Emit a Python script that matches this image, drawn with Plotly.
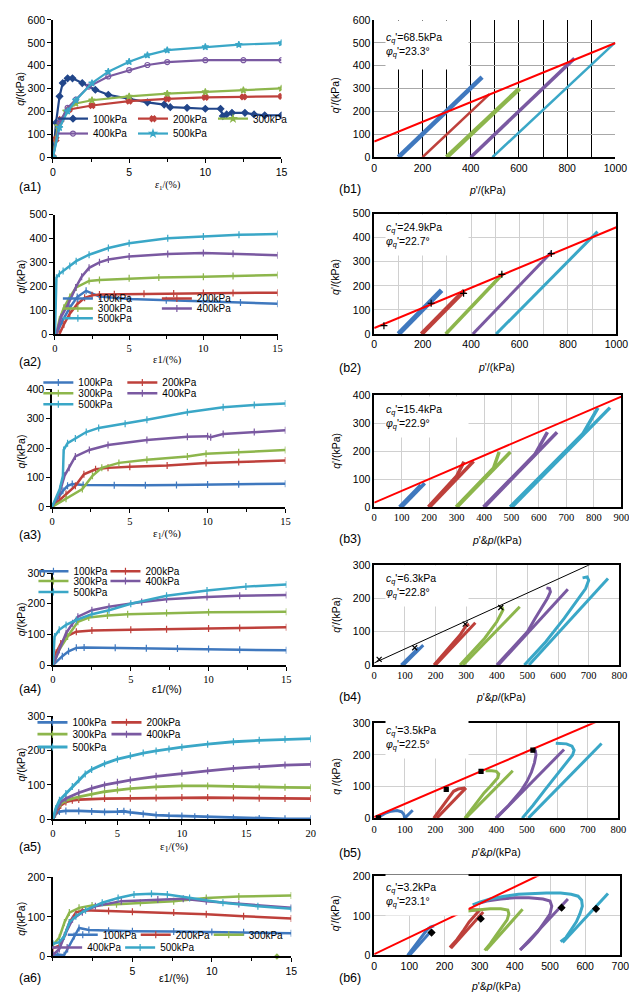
import math
import plotly.graph_objects as go

W, H = 637, 992
SANS = "Liberation Sans, Arial, sans-serif"
SERIF = "Liberation Serif, Times New Roman, serif"
BLUE, RED, GREEN, PURPLE, CYAN, NAVY = "#3F78BE", "#BE403B", "#8DB64C", "#7A59A1", "#3AA7C7", "#22468A"
NAMES = ["100kPa", "200kPa", "300kPa", "400kPa", "500kPa"]

# ---------------- (a1) ----------------
a1_e_100 = [0, 0.2, 0.43, 0.64, 0.96, 1.28, 1.92, 2.78, 3.63, 5, 6.2, 7.3, 7.7, 8.8, 10, 11, 11.15, 11.4, 11.75, 12.6, 13.2, 13.9, 15]
a1_q_100 = [0, 151, 266, 324, 345, 345, 324, 295, 273, 255, 240, 230, 219, 216, 212, 212, 180, 187, 194, 194, 187, 183, 183]
a1_e_200 = [0, 0.2, 0.53, 1.07, 2.56, 5, 7.5, 10, 12.5, 15]
a1_q_200 = [0, 79, 165, 209, 226, 245, 255, 262, 264, 266]
a1_e_300 = [0, 0.32, 0.85, 1.5, 2.56, 5, 7.5, 10, 12.5, 15]
a1_q_300 = [0, 137, 201, 235, 249, 266, 278, 285, 293, 301]
a1_e_400 = [0, 0.43, 0.96, 1.5, 2.35, 3.63, 5, 6.2, 7.5, 10, 12.5, 15]
a1_q_400 = [0, 151, 216, 252, 309, 353, 381, 403, 416, 424, 424, 424]
a1_e_500 = [0, 0.43, 0.96, 1.5, 2.56, 3.63, 5, 6.2, 7.5, 10, 12.2, 15]
a1_q_500 = [0, 129, 201, 249, 324, 374, 417, 446, 468, 482, 492, 499]

# ---------------- (a2) ----------------
a2_e_100 = [0.1, 0.5, 1.0, 1.5, 2.1, 3, 5, 7.5, 10, 12.5, 15]
a2_q_100 = [0, 55, 110, 155, 181, 157, 147, 141, 137, 132, 127]
a2_e_200 = [0.3, 0.6, 1, 1.5, 2, 2.5, 3, 4, 6, 8, 10, 12, 15]
a2_q_200 = [0, 40, 85, 125, 152, 162, 166, 167, 169, 170, 172, 172, 173]
a2_e_300 = [0.1, 0.3, 0.6, 1, 1.43, 2.3, 3, 5, 7, 10, 12, 15]
a2_q_300 = [0, 60, 110, 155, 195, 222, 226, 233, 237, 240, 243, 247]
a2_e_400 = [0.1, 0.4, 0.9, 1.4, 1.8, 2.3, 3, 3.6, 5, 7.6, 10, 12, 15]
a2_q_400 = [0, 70, 126, 195, 240, 277, 300, 312, 325, 335, 339, 336, 330]
a2_e_500 = [0, 0.05, 0.1, 0.3, 0.55, 1, 1.43, 2.3, 3.6, 5, 7.6, 10, 12.4, 15]
a2_q_500 = [0, 120, 236, 252, 264, 285, 305, 332, 360, 380, 401, 408, 415, 419]

# ---------------- (a3) ----------------
a3_e_100 = [0, 0.3, 0.7, 1.0, 1.3, 2, 4, 6, 8, 10, 12, 15]
a3_q_100 = [0, 25, 55, 72, 78, 75, 74, 74, 75, 76, 77, 79]
a3_e_200 = [0, 0.5, 0.9, 1.5, 2.05, 2.8, 3.6, 5, 7.4, 9.9, 12, 15]
a3_q_200 = [0, 25, 44, 72, 111, 128, 133, 137, 141, 150, 153, 158]
a3_e_300 = [0, 0.9, 1.95, 2.6, 3.2, 4.3, 6.1, 8.7, 9.9, 12, 15]
a3_q_300 = [0, 28, 61, 106, 133, 150, 161, 172, 181, 186, 194]
a3_e_400 = [0, 0.5, 0.8, 1.1, 1.5, 2.4, 3.6, 6.1, 8.7, 10, 10.2, 11, 13, 15]
a3_q_400 = [0, 50, 106, 133, 172, 194, 211, 228, 239, 241, 237, 248, 255, 261]
a3_e_500 = [0, 0.5, 0.7, 0.75, 1.0, 1.5, 2.2, 3, 4.7, 6.1, 8.7, 11, 13, 15]
a3_q_500 = [0, 61, 106, 194, 217, 233, 255, 269, 283, 297, 322, 339, 347, 352]

# ---------------- (a4) ----------------
a4_e_100 = [0, 0.6, 1.0, 1.5, 2, 4, 6, 8, 10, 12, 15]
a4_q_100 = [0, 29, 45, 56, 57, 56, 55, 54, 52, 50, 48]
a4_e_200 = [0, 0.2, 0.5, 0.84, 1.5, 2.5, 5, 7.3, 10, 12, 15]
a4_q_200 = [0, 40, 70, 93, 109, 113, 115, 117, 119, 121, 123]
a4_e_300 = [0, 0.4, 0.94, 1.6, 2.3, 3.5, 4.8, 7.3, 10, 15]
a4_q_300 = [0, 50, 93, 141, 155, 162, 166, 170, 172, 174]
a4_e_400 = [0, 0.4, 0.84, 1.26, 1.6, 2.5, 3.6, 5.7, 7.3, 9.9, 12, 15]
a4_q_400 = [0, 50, 104, 136, 158, 179, 190, 206, 215, 222, 226, 229]
a4_e_500 = [0, 0.1, 0.4, 0.84, 1.5, 2.5, 3.6, 5, 7.3, 9.9, 12.4, 15]
a4_q_500 = [0, 93, 115, 131, 147, 166, 179, 200, 226, 243, 256, 263]

# ---------------- (a5) ----------------
a5_e_100 = [0, 0.2, 0.5, 1, 2, 3, 4, 5, 5.5, 6, 7, 8, 9, 10, 11, 12, 14, 16, 18, 20]
a5_q_100 = [0, 15, 22, 24, 24, 22, 21, 22, 23, 20, 15, 12, 10, 9, 7, 5, 3, 2, 1, 1]
a5_e_200 = [0, 0.3, 0.6, 1, 1.5, 2, 4, 6, 8, 10, 12, 14, 16, 18, 20]
a5_q_200 = [0, 25, 40, 50, 55, 57, 60, 61, 62, 63, 63, 62, 61, 60, 60]
a5_e_300 = [0, 0.3, 0.6, 1, 2, 3, 4, 5, 6, 8, 10, 12, 14, 16, 18, 20]
a5_q_300 = [0, 30, 45, 55, 65, 73, 80, 85, 89, 94, 97, 97, 95, 94, 93, 92]
a5_e_400 = [0, 0.3, 0.6, 1, 2, 3, 4, 5, 6, 8, 10, 12, 14, 16, 18, 20]
a5_q_400 = [0, 30, 50, 60, 77, 90, 100, 108, 114, 125, 134, 141, 148, 154, 158, 160]
a5_e_500 = [0, 0.2, 0.5, 1, 1.5, 2, 2.5, 3, 4, 5, 6, 7, 8, 9, 10, 12, 14, 16, 18, 20]
a5_q_500 = [0, 30, 55, 75, 95, 115, 132, 145, 162, 175, 185, 193, 199, 205, 210, 219, 226, 230, 233, 235]

# ---------------- (a6) ----------------
a6_e_100 = [0, 0.3, 0.7, 0.92, 1.33, 1.64, 2.26, 3.5, 5, 7.6, 10, 12, 15]
a6_q_100 = [4, 5, 3, 19, 52, 72, 67, 65, 64, 63, 62, 61, 59]
a6_e_200 = [0, 0.4, 0.72, 1.03, 1.44, 1.85, 3.5, 5, 7.6, 9.65, 12, 15]
a6_q_200 = [21, 27, 52, 86, 111, 117, 115, 113, 111, 107, 102, 96]
a6_e_300 = [0, 0.4, 0.72, 1.03, 1.64, 2.46, 4, 5.5, 7.6, 9.65, 11.7, 15]
a6_q_300 = [29, 48, 86, 111, 123, 129, 132, 136, 140, 148, 152, 154]
a6_e_400 = [0, 0.4, 0.82, 1.23, 1.85, 2.67, 4.3, 6.6, 8.2, 9.65, 11.7, 15]
a6_q_400 = [4, 19, 61, 94, 112, 127, 140, 144, 146, 140, 133, 123]
a6_e_500 = [0, 0.4, 0.72, 1.03, 1.44, 2.05, 3.1, 4.1, 5.1, 6.2, 7.2, 8.6, 10.7, 12.9, 15]
a6_q_500 = [32, 36, 52, 86, 102, 117, 136, 148, 157, 159, 157, 148, 136, 127, 121]
a6_stray_e = [14.1]
a6_stray_q = [0]

# ---------------- (b1) stress paths ----------------
b1_p_100, b1_q_100 = [100, 447], [0, 350]
b1_p_200, b1_q_200 = [200, 478], [0, 276]
b1_p_300, b1_q_300 = [300, 602], [0, 300]
b1_p_400, b1_q_400 = [400, 830], [0, 432]
b1_p_500, b1_q_500 = [490, 997], [0, 500]
b1_c, b1_phi = 68.5, 23.3

# ---------------- (b2) ----------------
b2_p_100, b2_q_100 = [100, 278], [0, 182]
b2_p_200, b2_q_200 = [195, 372], [0, 180]
b2_p_300, b2_q_300 = [295, 532], [0, 251]
b2_p_400, b2_q_400 = [407, 732], [0, 340]
b2_p_500, b2_q_500 = [503, 922], [0, 425]
b2_mk_p, b2_mk_q = [40, 235, 369, 527, 731], [35, 128, 169, 248, 334]
b2_c, b2_phi = 24.9, 22.7

# ---------------- (b3) effective (e) and total (t) paths ----------------
b3_pe_100, b3_qe_100 = [92, 170], [0, 79]
b3_pt_100, b3_qt_100 = [100, 184], [0, 85]
b3_pe_200, b3_qe_200 = [197, 300, 327], [0, 110, 162]
b3_pt_200, b3_qt_200 = [202, 362], [0, 164]
b3_pe_300, b3_qe_300 = [298, 435, 455], [0, 140, 197]
b3_pt_300, b3_qt_300 = [302, 496], [0, 197]
b3_pe_400, b3_qe_400 = [398, 585, 631], [0, 188, 268]
b3_pt_400, b3_qt_400 = [402, 666], [0, 268]
b3_pe_500, b3_qe_500 = [495, 760, 815], [0, 262, 355]
b3_pt_500, b3_qt_500 = [502, 859], [0, 356]
b3_c, b3_phi = 15.4, 22.9

# ---------------- (b4) ----------------
b4_pe_100, b4_qe_100 = [88, 130, 145], [0, 40, 52]
b4_pt_100, b4_qt_100 = [95, 160], [0, 60]
b4_pe_200, b4_qe_200 = [195, 280, 300, 310], [0, 90, 118, 122]
b4_pt_200, b4_qt_200 = [200, 330], [0, 127]
b4_pe_300, b4_qe_300 = [280, 360, 400, 410, 420, 418, 410], [0, 80, 130, 150, 165, 172, 175]
b4_pt_300, b4_qt_300 = [290, 475], [0, 175]
b4_pe_400, b4_qe_400 = [400, 460, 500, 525, 550, 565, 575, 572, 562], [0, 60, 100, 140, 175, 200, 220, 230, 232]
b4_pt_400, b4_qt_400 = [405, 632], [0, 228]
b4_pe_500, b4_qe_500 = [490, 560, 620, 660, 690, 700, 695, 680], [0, 70, 140, 190, 230, 255, 265, 262]
b4_pt_500, b4_qt_500 = [505, 763], [0, 260]
b4_mk_p, b4_mk_q = [16, 132, 297, 413], [17, 52, 123, 173]
b4_c, b4_phi = 6.3, 22.8

# ---------------- (b5) ----------------
b5_pe_100, b5_qe_100 = [100, 97, 90, 75, 55, 35, 15], [0, 12, 20, 24, 22, 15, 4]
b5_pt_100, b5_qt_100 = [100, 126], [0, 25]
b5_pe_200, b5_qe_200 = [195, 215, 235, 250, 260, 275, 295, 300], [0, 25, 50, 70, 85, 92, 95, 90]
b5_pt_200, b5_qt_200 = [205, 300], [0, 95]
b5_pe_300, b5_qe_300 = [297, 320, 340, 360, 380, 395, 405, 408, 400, 385, 365], [0, 30, 55, 80, 100, 115, 128, 140, 148, 150, 150]
b5_pt_300, b5_qt_300 = [300, 454], [0, 150]
b5_pe_400, b5_qe_400 = [398, 440, 480, 500, 515, 525, 530, 528, 520], [0, 40, 85, 115, 145, 175, 200, 213, 217]
b5_pt_400, b5_qt_400 = [400, 622], [0, 217]
b5_pe_500, b5_qe_500 = [485, 520, 560, 600, 630, 650, 655, 648, 630, 595], [0, 40, 90, 140, 175, 200, 215, 228, 235, 237]
b5_pt_500, b5_qt_500 = [505, 745], [0, 236]
b5_mk_p, b5_mk_q = [14, 236, 350, 520], [1, 91, 148, 215]
b5_c, b5_phi = 3.5, 22.5

# ---------------- (b6) ----------------
b6_pe_100, b6_qe_100 = [95, 120, 140, 150, 160, 170], [0, 30, 55, 65, 72, 75]
b6_pt_100, b6_qt_100 = [100, 165], [0, 65]
b6_pe_200, b6_qe_200 = [215, 235, 255, 270, 285, 295, 300, 280, 250, 225, 215], [20, 40, 65, 85, 100, 110, 115, 116, 115, 113, 108]
b6_pt_200, b6_qt_200 = [218, 310], [18, 110]
b6_pe_300, b6_qe_300 = [314, 330, 350, 365, 378, 383, 380, 360, 330, 300, 270, 245], [13, 30, 55, 75, 90, 105, 115, 118, 118, 116, 113, 110]
b6_pt_300, b6_qt_300 = [318, 422], [13, 117]
b6_pe_400, b6_qe_400 = [415, 440, 465, 485, 500, 505, 500, 480, 440, 400, 360, 320, 290], [14, 35, 60, 85, 105, 125, 138, 143, 146, 146, 143, 138, 130]
b6_pt_400, b6_qt_400 = [415, 551], [14, 143]
b6_pe_500, b6_qe_500 = [530, 545, 560, 575, 585, 592, 590, 580, 560, 530, 490, 450, 410, 370, 330, 300, 280], [35, 45, 65, 85, 105, 125, 140, 150, 155, 158, 158, 157, 155, 150, 143, 135, 128]
b6_pt_500, b6_qt_500 = [536, 665], [33, 157]
b6_mk_p, b6_mk_q = [163, 303, 533, 631], [58, 93, 121, 118]
b6_c, b6_phi = 3.2, 23.1

# ====================================================================
fig = go.Figure()
layout = dict(width=W, height=H, margin=dict(l=0, r=0, t=0, b=0),
              paper_bgcolor="white", plot_bgcolor="white", showlegend=True)
annotations = []


def sfx(n):
    return "" if n == 1 else str(n)


def curve(n, x, y, color, name="", legend="legend", showlegend=False, width=2.5,
          symbol="line-ns-open", msize=5, mode="lines+markers", legendwidth=None):
    kw = {}
    if legendwidth:
        kw["legendwidth"] = legendwidth
    fig.add_trace(go.Scatter(
        x=x, y=y, mode=mode, name=name, legend=legend, showlegend=showlegend,
        line=dict(color=color, width=width),
        marker=dict(symbol=symbol, size=msize, color=color, line=dict(color=color, width=1.2)),
        xaxis="x" + sfx(n), yaxis="y" + sfx(n), hoverinfo="skip", **kw))


def dom_x(a, b):
    return [a / W, b / W]


def dom_y(t, b):
    return [1 - b / H, 1 - t / H]


def left_axes(n, xpx, ypx, xr, yr, xd, yd, xfont, xtickvals=None):
    xa = dict(domain=dom_x(*xpx), range=xr, anchor="y" + sfx(n), showline=True, linecolor="black",
              linewidth=1.5, ticks="outside", ticklen=4, tickcolor="black", showgrid=False,
              zeroline=False, tickfont=dict(family=xfont, size=10.5, color="black"),
              dtick=xd, tick0=0, minor=dict(dtick=xd / 2, tick0=0, ticks="outside", ticklen=3, tickcolor="black"))
    if xtickvals is not None:
        xa.update(tickmode="array", tickvals=xtickvals)
    ya = dict(domain=dom_y(*ypx), range=yr, anchor="x" + sfx(n), showline=True, linecolor="black",
              linewidth=1.5, ticks="outside", ticklen=4, tickcolor="black", showgrid=False,
              zeroline=False, tickfont=dict(family=SANS, size=10.5, color="black"), dtick=yd, tick0=0)
    layout["xaxis" + sfx(n)] = xa
    layout["yaxis" + sfx(n)] = ya


def right_axes(n, xpx, ypx, xr, yr, xd, yd, xfont, minor_x=None, mirror=True,
               xgrid="#d0d0d0", ygrid="#d0d0d0"):
    xa = dict(domain=dom_x(*xpx), range=xr, anchor="y" + sfx(n), showline=True, linecolor="black",
              linewidth=1.5, mirror=mirror, ticks="", showgrid=True, gridcolor=xgrid, gridwidth=1,
              zeroline=False, tickfont=dict(family=xfont, size=10.5, color="black"), dtick=xd, tick0=0)
    if minor_x:
        xa["minor"] = dict(dtick=minor_x, tick0=0, showgrid=True, gridcolor=xgrid, gridwidth=1)
    ya = dict(domain=dom_y(*ypx), range=yr, anchor="x" + sfx(n), showline=True, linecolor="black",
              linewidth=1.5, mirror=mirror, ticks="", showgrid=True, gridcolor=ygrid, gridwidth=1,
              zeroline=False, tickfont=dict(family=SANS, size=10.5, color="black"), dtick=yd, tick0=0)
    layout["xaxis" + sfx(n)] = xa
    layout["yaxis" + sfx(n)] = ya


def text(x, y, s, size=10.5, family=SANS, angle=0, xanchor="center", **kw):
    d = dict(x=x / W, y=1 - y / H, xref="paper", yref="paper", text=s, showarrow=False,
             font=dict(family=family, size=size, color="black"), textangle=angle,
             xanchor=xanchor, yanchor="middle")
    d.update(kw)
    annotations.append(d)


def legend_row(key, text_x, yc, spacing, dx=10, dy=7):
    # text_x / yc: where the first entry's text sits in the reference
    layout[key] = dict(x=(text_x - 40 - dx) / W, y=1 - (yc - dy) / H, xanchor="left", yanchor="middle",
                       orientation="h", bgcolor="rgba(0,0,0,0)", borderwidth=0,
                       font=dict(family=SANS, size=10, color="black"),
                       entrywidth=spacing - 45, entrywidthmode="pixels", itemwidth=30,
                       tracegroupgap=0, traceorder="normal")


def envelope(n, c, phi, pmax, color, width):
    t = math.tan(math.radians(phi))
    fig.add_trace(go.Scatter(x=[0, pmax], y=[c, c + t * pmax], mode="lines",
                             line=dict(color=color, width=width), showlegend=False,
                             xaxis="x" + sfx(n), yaxis="y" + sfx(n), hoverinfo="skip"))


def cphi_box(xl, yc, c, phi, h=40):
    s = ("<i>c<sub>q</sub></i>'=%.1fkPa<br><i>φ<sub>q</sub></i>'=%.1f°" % (c, phi))
    annotations.append(dict(x=xl / W, y=1 - yc / H, xref="paper", yref="paper", text=s,
                            showarrow=False, align="left", xanchor="left", yanchor="middle",
                            bgcolor="white", width=82, height=h, borderpad=0,
                            font=dict(family=SANS, size=10.5, color="black")))


COL = [BLUE, RED, GREEN, PURPLE, CYAN]
LAST_W = 50  # last entry of a legend row: wide enough to show its whole text

# ------------------------- (a1) -------------------------
left_axes(1, (43, 277), (6, 145), [0, 15], [0, 600], 5, 100, SANS)
a1_e = [a1_e_100, a1_e_200, a1_e_300, a1_e_400, a1_e_500]
a1_q = [a1_q_100, a1_q_200, a1_q_300, a1_q_400, a1_q_500]
a1_col = [NAVY, RED, GREEN, PURPLE, CYAN]
a1_sym = ["diamond", "x", "star", "circle-open", "star"]
for i in range(5):
    curve(1, a1_e[i], a1_q[i], a1_col[i], NAMES[i], "legend" if i < 3 else "legend2", True,
          width=2.2, symbol=a1_sym[i], msize=5, legendwidth=LAST_W if i in (2, 4) else None)
legend_row("legend", 90, 118, 80, dx=7, dy=12)
legend_row("legend2", 90, 133, 80, dx=7, dy=12)

# ------------------------- (b1) -------------------------
right_axes(2, (372, 619), (6, 145), [0, 1000], [0, 600], 200, 100, SANS, minor_x=100,
           mirror=False, xgrid="black", ygrid="#a8a8a8")
b1_p = [b1_p_100, b1_p_200, b1_p_300, b1_p_400, b1_p_500]
b1_q = [b1_q_100, b1_q_200, b1_q_300, b1_q_400, b1_q_500]
b1_w = [4.5, 2.5, 4.5, 3.5, 2.5]
for i in range(5):
    curve(2, b1_p[i], b1_q[i], COL[i], width=b1_w[i], mode="lines")
envelope(2, b1_c, b1_phi, 1000, "#FF0000", 2)
cphi_box(383, 31, b1_c, b1_phi, h=48)

# ------------------------- (a2) -------------------------
left_axes(3, (45, 273), (203, 324), [0, 15], [0, 500], 5, 100, SERIF)
a2_e = [a2_e_100, a2_e_200, a2_e_300, a2_e_400, a2_e_500]
a2_q = [a2_q_100, a2_q_200, a2_q_300, a2_q_400, a2_q_500]
a2_leg = ["legend3", "legend3", "legend4", "legend4", "legend5"]
for i in range(5):
    curve(3, a2_e[i], a2_q[i], COL[i], NAMES[i], a2_leg[i], True, width=2.5,
          legendwidth=LAST_W if i in (1, 3, 4) else None)
legend_row("legend3", 98, 297, 99, dy=9)
legend_row("legend4", 98, 307, 99, dy=9)
legend_row("legend5", 98, 317, 99, dy=9)

# ------------------------- (b2) -------------------------
right_axes(4, (372, 620), (202, 324), [0, 1000], [0, 500], 200, 100, SANS, minor_x=100)
b2_p = [b2_p_100, b2_p_200, b2_p_300, b2_p_400, b2_p_500]
b2_q = [b2_q_100, b2_q_200, b2_q_300, b2_q_400, b2_q_500]
b2_w = [5, 4.5, 3.5, 3, 3]
for i in range(5):
    curve(4, b2_p[i], b2_q[i], COL[i], width=b2_w[i], mode="lines")
envelope(4, b2_c, b2_phi, 1000, "#FF0000", 2)
curve(4, b2_mk_p, b2_mk_q, "black", mode="markers", symbol="cross-thin-open", msize=5)
cphi_box(383, 224, b2_c, b2_phi)

# ------------------------- (a3) -------------------------
left_axes(5, (42, 281), (380, 499), [0, 15], [0, 400], 5, 100, SERIF)
a3_e = [a3_e_100, a3_e_200, a3_e_300, a3_e_400, a3_e_500]
a3_q = [a3_q_100, a3_q_200, a3_q_300, a3_q_400, a3_q_500]
a3_leg = ["legend6", "legend6", "legend7", "legend7", "legend8"]
for i in range(5):
    curve(5, a3_e[i], a3_q[i], COL[i], NAMES[i], a3_leg[i], True, width=2.5,
          legendwidth=LAST_W if i in (1, 3, 4) else None)
legend_row("legend6", 78, 381, 84, dy=8)
legend_row("legend7", 78, 392, 84, dy=8)
legend_row("legend8", 78, 403, 84, dy=8)

# ------------------------- (b3) -------------------------
right_axes(6, (372, 625), (386, 499), [0, 900], [0, 400], 100, 100, SERIF)
b3_pe = [b3_pe_100, b3_pe_200, b3_pe_300, b3_pe_400, b3_pe_500]
b3_qe = [b3_qe_100, b3_qe_200, b3_qe_300, b3_qe_400, b3_qe_500]
b3_pt = [b3_pt_100, b3_pt_200, b3_pt_300, b3_pt_400, b3_pt_500]
b3_qt = [b3_qt_100, b3_qt_200, b3_qt_300, b3_qt_400, b3_qt_500]
for i in range(5):
    curve(6, b3_pe[i], b3_qe[i], COL[i], width=3.5, mode="lines")
    curve(6, b3_pt[i], b3_qt[i], COL[i], width=3.5, mode="lines")
envelope(6, b3_c, b3_phi, 900, "#FF0000", 2)
cphi_box(383, 408, b3_c, b3_phi)

# ------------------------- (a4) -------------------------
left_axes(7, (43, 282), (566, 659), [0, 15], [0, 300], 5, 100, SERIF)
a4_e = [a4_e_100, a4_e_200, a4_e_300, a4_e_400, a4_e_500]
a4_q = [a4_q_100, a4_q_200, a4_q_300, a4_q_400, a4_q_500]
a4_leg = ["legend9", "legend9", "legend10", "legend10", "legend11"]
for i in range(5):
    curve(7, a4_e[i], a4_q[i], COL[i], NAMES[i], a4_leg[i], True, width=2.5,
          legendwidth=LAST_W if i in (1, 3, 4) else None)
legend_row("legend9", 73, 571, 72)
legend_row("legend10", 73, 581, 72)
legend_row("legend11", 73, 592, 72)

# ------------------------- (b4) -------------------------
right_axes(8, (372, 623), (558, 659), [0, 800], [0, 300], 100, 100, SERIF)
b4_pe = [b4_pe_100, b4_pe_200, b4_pe_300, b4_pe_400, b4_pe_500]
b4_qe = [b4_qe_100, b4_qe_200, b4_qe_300, b4_qe_400, b4_qe_500]
b4_pt = [b4_pt_100, b4_pt_200, b4_pt_300, b4_pt_400, b4_pt_500]
b4_qt = [b4_qt_100, b4_qt_200, b4_qt_300, b4_qt_400, b4_qt_500]
for i in range(5):
    curve(8, b4_pe[i], b4_qe[i], COL[i], width=3, mode="lines")
    curve(8, b4_pt[i], b4_qt[i], COL[i], width=3, mode="lines")
envelope(8, b4_c, b4_phi, 800, "black", 1)
curve(8, b4_mk_p, b4_mk_q, "black", mode="markers", symbol="x-thin-open", msize=5)
cphi_box(383, 579, b4_c, b4_phi)

# ------------------------- (a5) -------------------------
left_axes(9, (43, 307), (711, 815), [0, 20], [0, 300], 5, 100, SERIF)
a5_e = [a5_e_100, a5_e_200, a5_e_300, a5_e_400, a5_e_500]
a5_q = [a5_q_100, a5_q_200, a5_q_300, a5_q_400, a5_q_500]
a5_leg = ["legend12", "legend12", "legend13", "legend13", "legend14"]
for i in range(5):
    curve(9, a5_e[i], a5_q[i], COL[i], NAMES[i], a5_leg[i], True, width=2.8,
          legendwidth=LAST_W if i in (1, 3, 4) else None)
legend_row("legend12", 72, 722, 74, dy=5)
legend_row("legend13", 72, 734, 74, dy=5)
legend_row("legend14", 72, 747, 74, dy=5)

# ------------------------- (b5) -------------------------
right_axes(10, (372, 622), (718, 814), [0, 800], [0, 300], 100, 100, SERIF)
b5_pe = [b5_pe_100, b5_pe_200, b5_pe_300, b5_pe_400, b5_pe_500]
b5_qe = [b5_qe_100, b5_qe_200, b5_qe_300, b5_qe_400, b5_qe_500]
b5_pt = [b5_pt_100, b5_pt_200, b5_pt_300, b5_pt_400, b5_pt_500]
b5_qt = [b5_qt_100, b5_qt_200, b5_qt_300, b5_qt_400, b5_qt_500]
for i in range(5):
    curve(10, b5_pe[i], b5_qe[i], COL[i], width=3, mode="lines")
    curve(10, b5_pt[i], b5_qt[i], COL[i], width=3, mode="lines")
envelope(10, b5_c, b5_phi, 800, "#FF0000", 2)
curve(10, b5_mk_p, b5_mk_q, "black", mode="markers", symbol="square", msize=4)
cphi_box(383, 733, b5_c, b5_phi)

# ------------------------- (a6) -------------------------
left_axes(11, (43, 287), (874, 954), [0, 15], [0, 200], 5, 100, SANS, xtickvals=[5, 10, 15])
a6_e = [a6_e_100, a6_e_200, a6_e_300, a6_e_400, a6_e_500]
a6_q = [a6_q_100, a6_q_200, a6_q_300, a6_q_400, a6_q_500]
a6_leg = ["legend15", "legend15", "legend15", "legend16", "legend16"]
for i in range(5):
    curve(11, a6_e[i], a6_q[i], COL[i], NAMES[i], a6_leg[i], True, width=2.5,
          legendwidth=LAST_W if i in (2, 4) else None)
fig.add_trace(go.Scatter(x=a6_stray_e, y=a6_stray_q, mode="markers", showlegend=False,
                         marker=dict(symbol="diamond", size=5, color=GREEN), cliponaxis=False,
                         xaxis="x11", yaxis="y11", hoverinfo="skip"))
legend_row("legend15", 103, 936, 73, dy=4)
legend_row("legend16", 87, 949, 73, dy=4)

# ------------------------- (b6) -------------------------
right_axes(12, (372, 624), (873, 953), [0, 700], [0, 200], 100, 100, SANS)
b6_pe = [b6_pe_100, b6_pe_200, b6_pe_300, b6_pe_400, b6_pe_500]
b6_qe = [b6_qe_100, b6_qe_200, b6_qe_300, b6_qe_400, b6_qe_500]
b6_pt = [b6_pt_100, b6_pt_200, b6_pt_300, b6_pt_400, b6_pt_500]
b6_qt = [b6_qt_100, b6_qt_200, b6_qt_300, b6_qt_400, b6_qt_500]
for i in range(5):
    curve(12, b6_pe[i], b6_qe[i], COL[i], width=3, mode="lines")
    curve(12, b6_pt[i], b6_qt[i], COL[i], width=3, mode="lines")
envelope(12, b6_c, b6_phi, 700, "#FF0000", 2)
curve(12, b6_mk_p, b6_mk_q, "black", mode="markers", symbol="diamond", msize=5)
cphi_box(383, 892, b6_c, b6_phi)

# ------------------------- titles & labels -------------------------
QY = "<i>q</i>/(kPa)"
for (xc, yc) in [(9, 76), (10, 266), (10, 443), (10, 613), (10, 760), (10, 916)]:
    text(xc, yc, QY, size=10.5, angle=-90)
for (yc, s) in [(82, "<i>q</i>'/(kPa)"), (266, "<i>q</i>'/(kPa)"), (442, "<i>q</i>'/(kPa)"),
                (608, "<i>q</i>'/(kPa)"), (772, "<i>q</i> /(kPa)"), (910, "<i>q</i>'/(kPa)")]:
    text(332, yc, s, size=10.5, angle=-90)

text(160, 174, "<i>ε</i><sub>1</sub>/(%)", size=10, family=SERIF)
text(160, 350, "ε1/(%)", size=10.5, family=SERIF)
text(160, 526, "ε<sub>1</sub>/(%)", size=11, family=SERIF)
text(160, 683, "ε1/(%)", size=10.5, family=SANS)
text(167, 843, "ε<sub>1</sub>/(%)", size=11, family=SERIF)
text(167, 976, "ε1/(%)", size=10.5, family=SANS)
for (xc, yc, s) in [(488, 178, "<i>p</i>'/(kPa)"), (497, 357, "<i>p</i>'/(kPa)"),
                    (498, 532, "<i>p</i>'&<i>p</i>/(kPa)"), (502, 691, "<i>p</i>'&<i>p</i>/(kPa)"),
                    (497, 848, "<i>p</i>'&<i>p</i>/(kPa)"), (497, 984, "<i>p</i>'&<i>p</i>/(kPa)")]:
    text(xc, yc, s, size=10.5)

for (xl, yc, s) in [(6, 175, "(a1)"), (334, 177, "(b1)"), (6, 352, "(a2)"), (334, 358, "(b2)"),
                    (6, 527, "(a3)"), (334, 531, "(b3)"), (6, 683, "(a4)"), (334, 691, "(b4)"),
                    (6, 843, "(a5)"), (334, 849, "(b5)"), (6, 976, "(a6)"), (334, 976, "(b6)")]:
    text(xl, yc, s, size=12.5, xanchor="left")

layout["annotations"] = annotations
fig.update_layout(**layout)
fig.write_html("out.html")
